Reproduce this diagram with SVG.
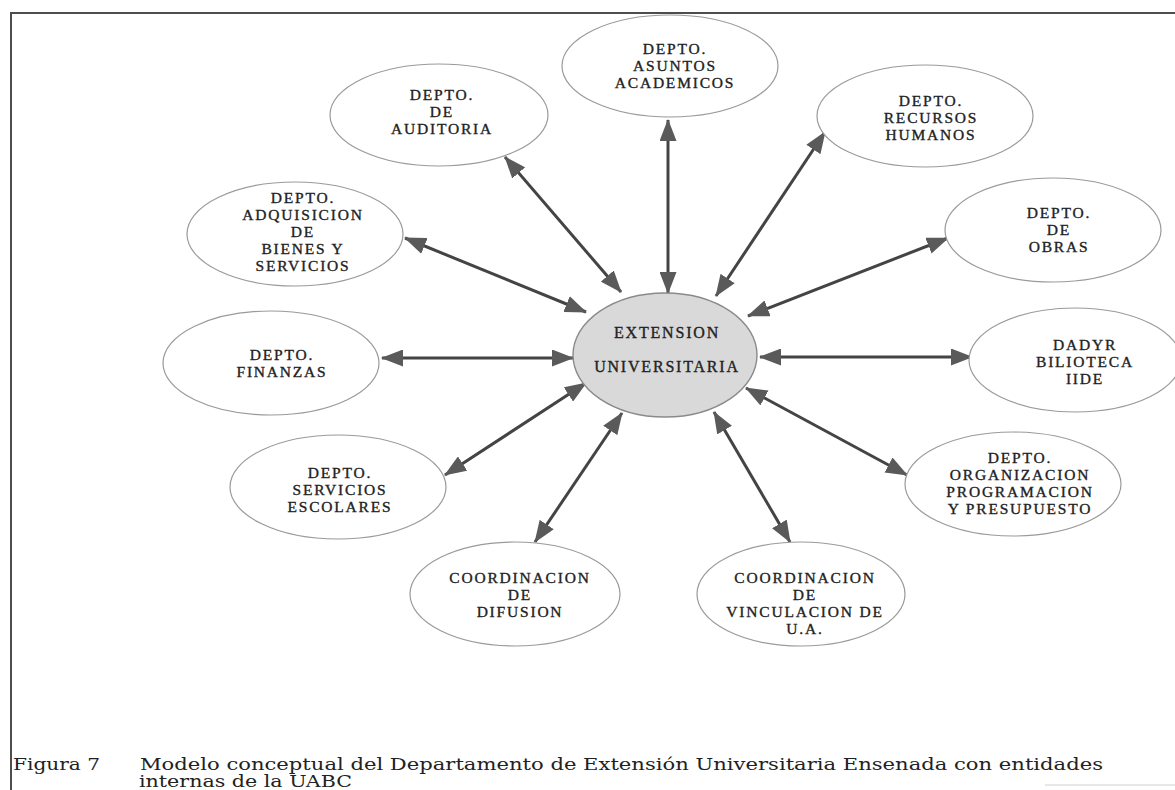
<svg xmlns="http://www.w3.org/2000/svg" width="1175" height="790" viewBox="0 0 1175 790">
  <style>
    .frame { stroke: #4d4d4d; stroke-width: 2; fill: none; }
    .node { fill: #ffffff; stroke: #9a9a9a; stroke-width: 1.2; }
    .hub { fill: #d9d9d9; stroke: #8a8a8a; stroke-width: 1.4; }
    .lbl { font-family: "Liberation Serif", "Times New Roman", serif; font-size: 15.5px; letter-spacing: 1.8px; fill: #222; stroke: #222; stroke-width: 0.35; text-anchor: middle; }
    .hubl { font-size: 16px; }
    .link { stroke: #444; stroke-width: 3; fill: none; marker-start: url(#head); marker-end: url(#head); }
    .cap { font-family: "DejaVu Serif", "Liberation Serif", serif; font-size: 16px; fill: #222; }
  </style>
  <defs>
    <marker id="head" viewBox="0 0 22 17" refX="21" refY="8.5" markerWidth="22" markerHeight="17" markerUnits="userSpaceOnUse" orient="auto-start-reverse">
      <path d="M0,0 L22,8.5 L0,17 z" fill="#5a5a5a"/>
    </marker>
  </defs>

  <rect width="1175" height="790" fill="#ffffff"/>

  <!-- page frame -->
  <path class="frame" d="M11,790 L11,13 L1175,13"/>
  <line x1="1045" y1="785" x2="1175" y2="785" stroke="#d0d0d0" stroke-width="1"/>

  <!-- connectors -->
  <g id="connectors">
    <line class="link" x1="668" y1="293" x2="668" y2="120"/>
    <line class="link" x1="621" y1="292" x2="505" y2="157"/>
    <line class="link" x1="716" y1="296" x2="825" y2="132"/>
    <line class="link" x1="748" y1="316" x2="948" y2="238"/>
    <line class="link" x1="760" y1="357" x2="972" y2="357"/>
    <line class="link" x1="746" y1="388" x2="907" y2="475"/>
    <line class="link" x1="714" y1="412" x2="790" y2="542"/>
    <line class="link" x1="622" y1="413" x2="535" y2="542"/>
    <line class="link" x1="586" y1="383" x2="445" y2="475"/>
    <line class="link" x1="573" y1="358" x2="382" y2="358"/>
    <line class="link" x1="586" y1="312" x2="405" y2="238"/>
  </g>

  <!-- hub -->
  <g id="extension-universitaria">
    <ellipse class="hub" cx="665" cy="355" rx="92" ry="62"/>
    <text class="lbl hubl" x="667" y="338">EXTENSION</text>
    <text class="lbl hubl" x="667" y="372">UNIVERSITARIA</text>
  </g>

  <g id="asuntos-academicos">
    <ellipse class="node" cx="670" cy="66" rx="108" ry="51"/>
    <text class="lbl" x="675" y="54">DEPTO.</text>
    <text class="lbl" x="675" y="71">ASUNTOS</text>
    <text class="lbl" x="675" y="88">ACADEMICOS</text>
  </g>

  <g id="auditoria">
    <ellipse class="node" cx="439" cy="115" rx="109" ry="51"/>
    <text class="lbl" x="442" y="100">DEPTO.</text>
    <text class="lbl" x="442" y="117">DE</text>
    <text class="lbl" x="442" y="134">AUDITORIA</text>
  </g>

  <g id="recursos-humanos">
    <ellipse class="node" cx="925" cy="116" rx="108" ry="51"/>
    <text class="lbl" x="931" y="106">DEPTO.</text>
    <text class="lbl" x="931" y="123">RECURSOS</text>
    <text class="lbl" x="931" y="140">HUMANOS</text>
  </g>

  <g id="obras">
    <ellipse class="node" cx="1053" cy="230" rx="108" ry="52"/>
    <text class="lbl" x="1059" y="218">DEPTO.</text>
    <text class="lbl" x="1059" y="235">DE</text>
    <text class="lbl" x="1059" y="252">OBRAS</text>
  </g>

  <g id="dadyr">
    <ellipse class="node" cx="1075" cy="360" rx="106" ry="52"/>
    <text class="lbl" x="1085" y="350">DADYR</text>
    <text class="lbl" x="1085" y="367">BILIOTECA</text>
    <text class="lbl" x="1085" y="384">IIDE</text>
  </g>

  <g id="organizacion">
    <ellipse class="node" cx="1013" cy="484" rx="108" ry="52"/>
    <text class="lbl" x="1020" y="463">DEPTO.</text>
    <text class="lbl" x="1020" y="480">ORGANIZACION</text>
    <text class="lbl" x="1020" y="497">PROGRAMACION</text>
    <text class="lbl" x="1020" y="514">Y PRESUPUESTO</text>
  </g>

  <g id="vinculacion">
    <ellipse class="node" cx="801" cy="594" rx="104" ry="52"/>
    <text class="lbl" x="805" y="583">COORDINACION</text>
    <text class="lbl" x="805" y="600">DE</text>
    <text class="lbl" x="805" y="617">VINCULACION DE</text>
    <text class="lbl" x="805" y="634">U.A.</text>
  </g>

  <g id="difusion">
    <ellipse class="node" cx="515" cy="594" rx="105" ry="52"/>
    <text class="lbl" x="520" y="583">COORDINACION</text>
    <text class="lbl" x="520" y="600">DE</text>
    <text class="lbl" x="520" y="617">DIFUSION</text>
  </g>

  <g id="servicios-escolares">
    <ellipse class="node" cx="338" cy="487" rx="108" ry="52"/>
    <text class="lbl" x="340" y="478">DEPTO.</text>
    <text class="lbl" x="340" y="495">SERVICIOS</text>
    <text class="lbl" x="340" y="512">ESCOLARES</text>
  </g>

  <g id="finanzas">
    <ellipse class="node" cx="271" cy="363" rx="108" ry="52"/>
    <text class="lbl" x="282" y="360">DEPTO.</text>
    <text class="lbl" x="282" y="377">FINANZAS</text>
  </g>

  <g id="adquisicion">
    <ellipse class="node" cx="295" cy="234" rx="108" ry="52"/>
    <text class="lbl" x="303" y="203">DEPTO.</text>
    <text class="lbl" x="303" y="220">ADQUISICION</text>
    <text class="lbl" x="303" y="237">DE</text>
    <text class="lbl" x="303" y="254">BIENES Y</text>
    <text class="lbl" x="303" y="271">SERVICIOS</text>
  </g>

  <!-- caption -->
  <g id="caption">
    <text class="cap" x="13" y="770" textLength="87" lengthAdjust="spacingAndGlyphs">Figura 7</text>
    <text class="cap" x="140" y="770" textLength="963" lengthAdjust="spacingAndGlyphs">Modelo conceptual del Departamento de Extensión Universitaria Ensenada con entidades</text>
    <text class="cap" x="139" y="787" textLength="213" lengthAdjust="spacingAndGlyphs">internas de la UABC</text>
  </g>
</svg>
